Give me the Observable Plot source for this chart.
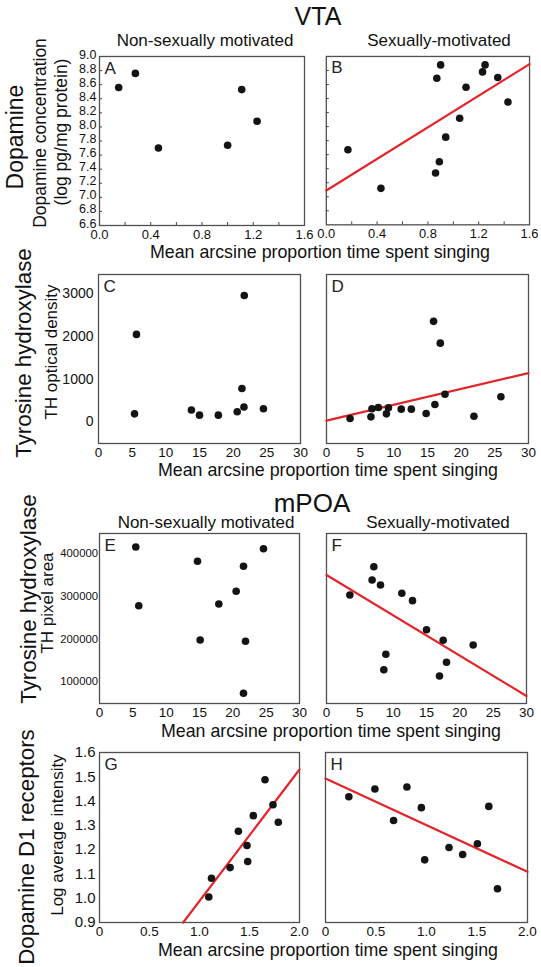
<!DOCTYPE html>
<html><head><meta charset="utf-8">
<script src="https://cdn.jsdelivr.net/npm/d3@7"></script>
<script src="https://cdn.jsdelivr.net/npm/@observablehq/plot@0.6"></script>
<style>
html,body{margin:0;padding:0;background:#fff;}
#chart{position:relative;width:541px;height:967px;overflow:hidden;font-family:"Liberation Sans",Arial,Helvetica,sans-serif;background:#fff;}
.panel{position:absolute;}
.panel svg{overflow:visible;}
</style></head><body><div id="chart"></div>
<script>
// ---------- text ----------
const regionTitles = ["VTA", "mPOA"];
const columnTitles = ["Non-sexually motivated", "Sexually-motivated"];
const rowTitles = ["Dopamine", "Tyrosine hydroxylase", "Tyrosine hydroxylase", "Dopamine D1 receptors"];
const yLabels = [["Dopamine concentration", "(log pg/mg protein)"], ["TH optical density"], ["TH pixel area"], ["Log average intensity"]];
const xLabel = "Mean arcsine proportion time spent singing";
const panelLetters = ["A", "B", "C", "D", "E", "F", "G", "H"];

// ---------- ticks ----------
const dopamineXTicks = [0, 0.4, 0.8, 1.2, 1.6];
const dopamineXMinor = [0.2, 0.4, 0.6, 0.8, 1.0, 1.2, 1.4];
const dopamineYTicks = [6.6, 6.8, 7.0, 7.2, 7.4, 7.6, 7.8, 8.0, 8.2, 8.4, 8.6, 8.8, 9.0];
const thXTicks = [0, 5, 10, 15, 20, 25, 30];
const thDensityTicks = [0, 1000, 2000, 3000];
const thAreaTicks = [100000, 200000, 300000, 400000];
const d1XTicks = [0, 0.5, 1.0, 1.5, 2.0];
const d1YTicks = [0.9, 1.0, 1.1, 1.2, 1.3, 1.4, 1.5, 1.6];

// ---------- data ----------
// A: VTA dopamine, non-sexually motivated
const aSinging = [0.15, 0.28, 0.46, 1.00, 1.11, 1.23];
const aDopamine = [8.56, 8.76, 7.70, 7.74, 8.53, 8.08];
// B: VTA dopamine, sexually motivated
const bSinging = [0.17, 0.43, 0.86, 0.89, 0.94, 0.87, 0.90, 1.05, 1.10, 1.23, 1.25, 1.35, 1.43];
const bDopamine = [7.67, 7.12, 7.34, 7.50, 7.85, 8.69, 8.88, 8.12, 8.56, 8.78, 8.88, 8.70, 8.35];
const bFitX = [0, 1.6];
const bFitY = [7.09, 8.89];
// C: VTA TH optical density, non-sexually motivated
const cSinging = [5.35, 5.64, 13.8, 15.0, 17.8, 20.6, 21.6, 21.3, 21.65, 24.5];
const cDensity = [190, 2050, 280, 160, 160, 240, 350, 785, 2960, 310];
// D: VTA TH optical density, sexually motivated
const dSinging = [3.5, 6.6, 6.75, 7.7, 8.9, 9.2, 11.1, 12.6, 14.8, 16.1, 17.6, 15.9, 16.9, 21.9, 25.9];
const dDensity = [80, 120, 310, 340, 190, 330, 300, 300, 200, 410, 650, 2355, 1845, 135, 590];
const dFitX = [0, 30];
const dFitY = [30, 1145];
// E: mPOA TH pixel area, non-sexually motivated
const eSinging = [5.44, 5.89, 14.7, 15.1, 17.9, 20.5, 21.6, 21.9, 21.6, 24.6];
const eArea = [415700, 278100, 382200, 197800, 282100, 311900, 370400, 194700, 72800, 411700];
// F: mPOA TH pixel area, sexually motivated
const fSinging = [3.5, 7.1, 6.84, 8.1, 11.3, 12.9, 15.0, 17.5, 22.0, 8.9, 8.6, 18.0, 16.95];
const fArea = [303200, 369500, 338400, 326600, 307200, 289900, 221900, 197000, 186000, 164200, 128100, 145500, 113400];
const fFitX = [0, 30];
const fFitY = [350000, 66500];
// G: mPOA D1 receptors, non-sexually motivated
const gSinging = [1.093, 1.12, 1.306, 1.389, 1.475, 1.482, 1.538, 1.655, 1.735, 1.788];
const gIntensity = [1.005, 1.082, 1.126, 1.276, 1.217, 1.151, 1.340, 1.488, 1.385, 1.313];
const gFitX = [0.837, 2.0];
const gFitY = [0.9, 1.530];
// H: mPOA D1 receptors, sexually motivated
const hSinging = [0.231, 0.489, 0.674, 0.806, 0.949, 0.982, 1.223, 1.358, 1.504, 1.617, 1.703];
const hIntensity = [1.418, 1.450, 1.320, 1.458, 1.373, 1.158, 1.209, 1.180, 1.224, 1.378, 1.039];
const hFitX = [0, 2];
const hFitY = [1.493, 1.109];

// ---------- drawing ----------
const FONT = '"Liberation Sans", Arial, Helvetica, sans-serif';
const chart = document.getElementById("chart");
const RED = "#e2252b";

function panel(o) {
  const [x0, x1, y0, y1] = o.box;
  const ml = 50, mr = 12, mt = 8, mb = 28;
  const fw = x1 - x0, fh = y1 - y0;
  const pts = o.xs.map((x, i) => ({x, y: o.ys[i]}));
  const marks = [];
  if (o.minorX) marks.push(Plot.tickX(o.minorX, {x: d => d, insetTop: fh - 3, stroke: "#444", strokeWidth: 1}));
  if (o.minorY) marks.push(Plot.tickY(o.minorY, {y: d => d, insetRight: fw - 3, stroke: "#444", strokeWidth: 1}));
  marks.push(Plot.frame({stroke: "#505050", strokeWidth: 1.3}));
  marks.push(Plot.axisX({ticks: o.xTicks, tickFormat: o.xFormat, tickSize: 0, tickPadding: 4, fontSize: o.xFont, label: null, fill: "#111"}));
  if (o.yTicks) marks.push(Plot.axisY({ticks: o.yTicks, tickFormat: o.yFormat, tickSize: 0, tickPadding: o.yPad, fontSize: o.yFont, dy: o.yDy || 0, label: null, fill: "#111"}));
  if (o.fitX) marks.push(Plot.line(o.fitX.map((x, i) => ({x, y: o.fitY[i]})), {x: "x", y: "y", stroke: RED, strokeWidth: 2.2}));
  marks.push(Plot.dot(pts, {x: "x", y: "y", r: 3.8, fill: "#141414"}));
  marks.push(Plot.text([o.letter], {text: d => d, frameAnchor: "top-left", dx: 5, dy: 5, textAnchor: "start", lineAnchor: "top", fontSize: 17, fill: "#222"}));
  const svg = Plot.plot({
    width: fw + ml + mr, height: fh + mt + mb,
    marginLeft: ml, marginRight: mr, marginTop: mt, marginBottom: mb,
    x: {domain: o.xDomain, axis: null},
    y: {domain: o.yDomain, axis: null},
    style: {background: "transparent", fontFamily: FONT, overflow: "visible"},
    marks
  });
  const div = document.createElement("div");
  div.className = "panel";
  div.style.left = (x0 - ml) + "px";
  div.style.top = (y0 - mt) + "px";
  div.appendChild(svg);
  chart.appendChild(div);
}

const f1 = d3.format(".1f");
const fD1 = d => d === 0 ? "0" : d.toFixed(1);
const fInt = d => String(d);

const dopaRow = {xDomain: [0, 1.6], yDomain: [6.6, 9.0], xTicks: dopamineXTicks, xFormat: f1, xFont: 13, minorX: dopamineXMinor, minorY: dopamineYTicks.slice(1, -1)};
const densRow = {xDomain: [0, 30], yDomain: [-504, 3452], xTicks: thXTicks, xFormat: fInt, xFont: 13.5};
const areaRow = {xDomain: [0, 30], yDomain: [48900, 447300], xTicks: thXTicks, xFormat: fInt, xFont: 13.5};
const d1Row = {xDomain: [0, 2], yDomain: [0.9, 1.6], xTicks: d1XTicks, xFormat: fD1, xFont: 13.5};

panel({...dopaRow, box: [99, 304, 56, 225], xs: aSinging, ys: aDopamine, letter: panelLetters[0], yTicks: dopamineYTicks, yFormat: f1, yFont: 12.5, yPad: 3, yDy: -2});
panel({...dopaRow, box: [326, 530, 56, 225], xs: bSinging, ys: bDopamine, fitX: bFitX, fitY: bFitY, letter: panelLetters[1]});
panel({...densRow, box: [98, 300, 274, 443], xs: cSinging, ys: cDensity, letter: panelLetters[2], yTicks: thDensityTicks, yFormat: fInt, yFont: 14, yPad: 5});
panel({...densRow, box: [326, 528, 274, 443], xs: dSinging, ys: dDensity, fitX: dFitX, fitY: dFitY, letter: panelLetters[3]});
panel({...areaRow, box: [99, 299, 532.5, 702.5], xs: eSinging, ys: eArea, letter: panelLetters[4], yTicks: thAreaTicks, yFormat: fInt, yFont: 11.3, yPad: 1.5});
panel({...areaRow, box: [326, 526, 532.5, 702.5], xs: fSinging, ys: fArea, fitX: fFitX, fitY: fFitY, letter: panelLetters[5]});
panel({...d1Row, box: [99, 299, 752, 922], xs: gSinging, ys: gIntensity, fitX: gFitX, fitY: gFitY, letter: panelLetters[6], yTicks: d1YTicks, yFormat: f1, yFont: 15, yPad: 4});
panel({...d1Row, box: [325, 527, 752, 922], xs: hSinging, ys: hIntensity, fitX: hFitX, fitY: hFitY, letter: panelLetters[7]});

// ---------- free text ----------
const ov = d3.select(chart).append("svg")
  .attr("width", 541).attr("height", 967)
  .style("position", "absolute").style("left", "0px").style("top", "0px")
  .style("pointer-events", "none").style("font-family", FONT);

function htext(s, x, y, size) {
  ov.append("text").attr("x", x).attr("y", y).attr("text-anchor", "middle")
    .attr("font-size", size).attr("fill", "#111").text(s);
}
function vtext(s, cx, cy, size) {
  ov.append("text").attr("transform", `translate(${cx},${cy}) rotate(-90)`)
    .attr("text-anchor", "middle").attr("dominant-baseline", "central")
    .attr("font-size", size).attr("fill", "#111").text(s);
}

htext(regionTitles[0], 318, 25, 25);
htext(regionTitles[1], 312, 512, 26);
htext(columnTitles[0], 205, 46, 17);
htext(columnTitles[1], 439, 46, 17);
htext(columnTitles[0], 206, 528, 17);
htext(columnTitles[1], 438, 528, 17);
htext(xLabel, 320, 258, 17.8);
htext(xLabel, 328, 476, 17.8);
htext(xLabel, 331, 736.5, 17.8);
htext(xLabel, 328, 956, 17.8);

vtext(rowTitles[0], 15, 137, 23);
vtext(rowTitles[1], 23, 353, 22.3);
vtext(rowTitles[2], 28, 599, 22.3);
vtext(rowTitles[3], 26, 847, 22.3);
vtext(yLabels[0][0], 40, 133, 17.5);
vtext(yLabels[0][1], 61, 132, 17.5);
vtext(yLabels[1][0], 51, 352, 17);
vtext(yLabels[2][0], 47, 603, 17);
vtext(yLabels[3][0], 57, 835, 17);
</script></body></html>
